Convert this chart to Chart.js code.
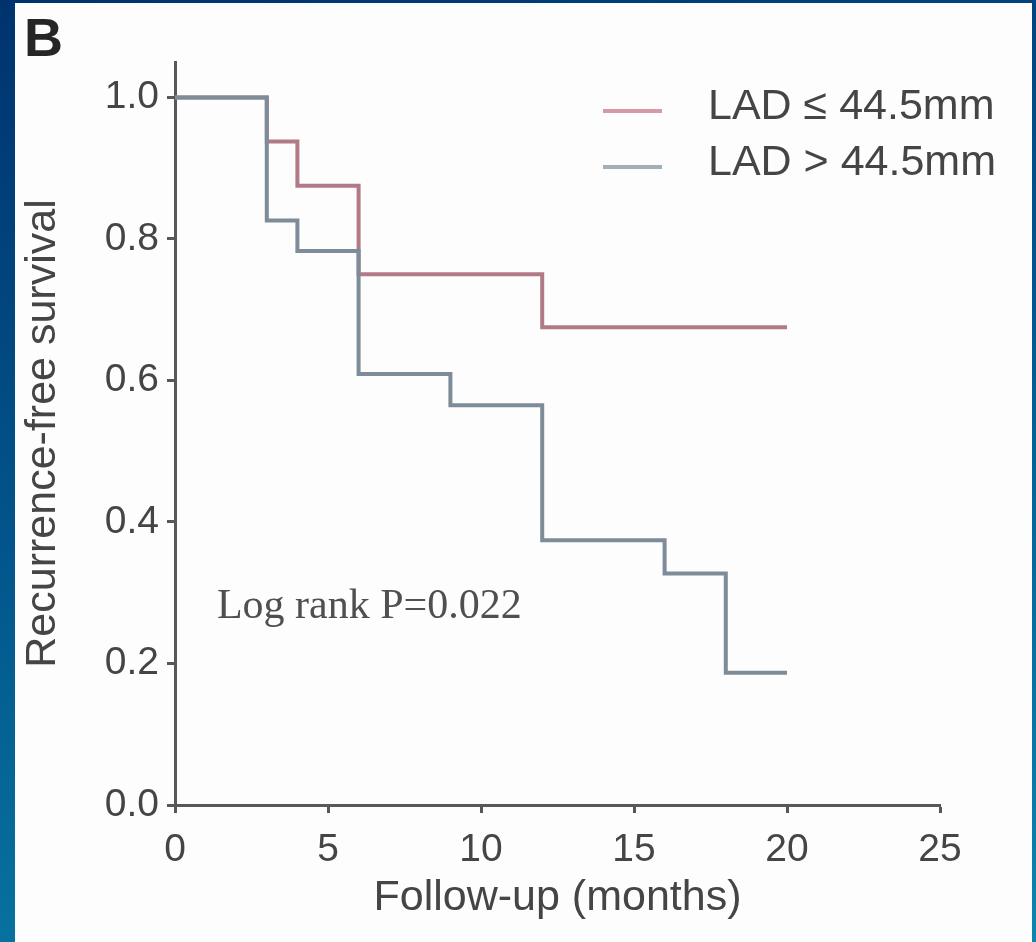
<!DOCTYPE html>
<html>
<head>
<meta charset="utf-8">
<script src="https://cdn.jsdelivr.net/npm/chart.js@4.4.1/dist/chart.umd.min.js"></script>
<style>
  html, body { margin: 0; padding: 0; }
  body {
    width: 1036px; height: 942px; overflow: hidden; position: relative;
    background: linear-gradient(165deg, #00336e 0%, #02558c 45%, #0a86ad 100%);
  }
  #panel {
    position: absolute; left: 15px; top: 3px; width: 1017px; height: 939px;
    background: #fdfdfd;
  }
  #tag {
    position: absolute; left: 24px; top: 6px;
    font: bold 54px "Liberation Sans", Arial, sans-serif; color: #262626;
  }
  #chart { position: absolute; left: 15px; top: 3px; }
</style>
</head>
<body>
<div id="panel"></div>
<div id="tag">B</div>
<canvas id="chart" width="1016" height="939"></canvas>
<script>
// follow-up months where each curve steps down, and the survival after the step
const lowMonths = [0, 3, 4, 6, 12, 20];
const lowSurv = [1, 0.9375, 0.875, 0.75, 0.675, 0.675];
const highMonths = [0, 3, 4, 6, 9, 12, 16, 18, 20];
const highSurv = [1, 0.826, 0.783, 0.609, 0.565, 0.374, 0.327, 0.187, 0.187];

const seriesNames = ["LAD \u2264 44.5mm", "LAD > 44.5mm"];
const seriesColors = ["#b27a86", "#7d8c98"];
const legendColors = ["#d59aa8", "#a3afb7"];
const xTicks = [0, 5, 10, 15, 20, 25];
const yTicks = [0, 0.2, 0.4, 0.6, 0.8, 1.0];
const pText = "Log rank P=0.022";

const toPoints = (xs, ys) => xs.map((x, i) => ({ x: x, y: ys[i] }));

const textColor = "#454545";
const axisColor = "#585858";
const sans = "'Liberation Sans', Arial, sans-serif";

// legend + log rank label drawn inside the plot
const overlay = {
  id: "overlay",
  afterDatasetsDraw(chart) {
    const { ctx, chartArea, scales } = chart;
    ctx.save();
    ctx.font = "43px " + sans;
    ctx.textAlign = "left";
    ctx.textBaseline = "middle";
    seriesNames.forEach((name, i) => {
      const y = chartArea.top + 45 + i * 56;
      ctx.strokeStyle = legendColors[i];
      ctx.lineWidth = 4;
      ctx.beginPath();
      ctx.moveTo(chartArea.left + 428, y + 4);
      ctx.lineTo(chartArea.left + 487, y + 4);
      ctx.stroke();
      ctx.fillStyle = textColor;
      ctx.fillText(name, chartArea.left + 533, y);
    });
    ctx.font = "42px 'Liberation Serif', 'Times New Roman', serif";
    ctx.fillStyle = "#4f4f4f";
    ctx.fillText(pText, scales.x.getPixelForValue(1.37), scales.y.getPixelForValue(0.28));
    ctx.restore();
  }
};

new Chart(document.getElementById("chart"), {
  type: "line",
  data: {
    datasets: [
      {
        label: seriesNames[1],
        data: toPoints(highMonths, highSurv),
        borderColor: seriesColors[1],
        borderWidth: 4,
        stepped: true,
        pointRadius: 0,
        fill: false
      },
      {
        label: seriesNames[0],
        data: toPoints(lowMonths, lowSurv),
        borderColor: seriesColors[0],
        borderWidth: 4,
        stepped: true,
        pointRadius: 0,
        fill: false
      }
    ]
  },
  options: {
    responsive: false,
    devicePixelRatio: 1,
    animation: false,
    layout: { padding: { top: 59, right: 91, left: 0, bottom: 0 } },
    plugins: {
      legend: { display: false },
      tooltip: { enabled: false }
    },
    scales: {
      x: {
        type: "linear",
        min: 0,
        max: 25,
        afterBuildTicks: (s) => { s.ticks = xTicks.map(v => ({ value: v })); },
        afterFit: (s) => { s.height = 137; },
        border: { display: true, color: axisColor, width: 3 },
        grid: { drawOnChartArea: false, drawTicks: true, tickLength: 8, tickColor: axisColor, tickWidth: 3 },
        ticks: { color: textColor, font: { size: 39, family: sans }, padding: 14, maxRotation: 0 },
        title: {
          display: true,
          text: "Follow-up (months)",
          color: textColor,
          font: { size: 43, family: sans },
          padding: { top: 0, bottom: 18 }
        }
      },
      y: {
        type: "linear",
        min: 0,
        max: 1.05,
        afterBuildTicks: (s) => { s.ticks = yTicks.map(v => ({ value: v })); },
        afterFit: (s) => { s.width = 160; },
        border: { display: true, color: axisColor, width: 3 },
        grid: { drawOnChartArea: false, drawTicks: true, tickLength: 8, tickColor: axisColor, tickWidth: 3 },
        ticks: {
          color: textColor,
          font: { size: 39, family: sans },
          padding: 8,
          callback: (v) => Number(v).toFixed(1)
        },
        title: {
          display: true,
          text: "Recurrence-free survival",
          color: textColor,
          font: { size: 43, family: sans },
          padding: { top: 2, bottom: 0 }
        }
      }
    }
  },
  plugins: [overlay]
});
</script>
</body>
</html>
